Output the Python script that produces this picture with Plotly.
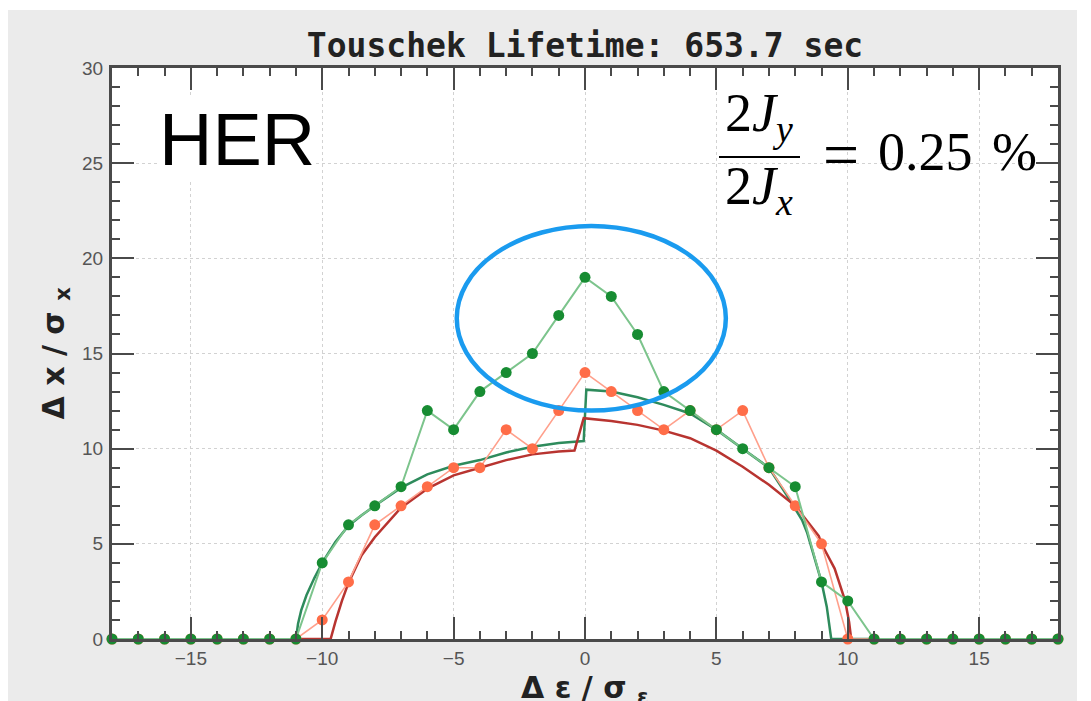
import plotly.graph_objects as go

# ---- data -------------------------------------------------------------
# energy deviation grid for the tracked points
de_grid = list(range(-18, 19))

# tracked aperture, 2Jy/2Jx = 0.25 %
dx_track_green = [0, 0, 0, 0, 0, 0, 0, 0,
                  4, 6, 7, 8, 12, 11, 13, 14, 15, 17,
                  19,
                  18, 16, 13, 12, 11, 10, 9, 8, 3, 2,
                  0, 0, 0, 0, 0, 0, 0, 0]

# tracked aperture, reference case
dx_track_orange = [0, 0, 0, 0, 0, 0, 0, 0,
                   1, 3, 6, 7, 8, 9, 9, 11, 10, 12,
                   14,
                   13, 12, 11, 12, 11, 12, 9, 7, 5, 0,
                   0, 0, 0, 0, 0, 0, 0, 0]

# model aperture curves
curve_green_x = [-11.0, -10.92, -10.8, -10.6, -10.3, -10.0, -9.5, -9.0, -8.5, -8.0,
                 -7.0, -6.0, -5.0, -4.0, -3.0, -2.0, -1.0, -0.05, 0.05,
                 1.0, 2.0, 3.0, 4.0, 5.0, 6.0, 7.0, 7.75, 8.0, 8.26, 8.45,
                 9.0, 9.2, 9.37, 11.0]
curve_green_y = [0.0, 0.8, 1.5, 2.3, 3.2, 4.0, 5.1, 5.95, 6.5, 7.0,
                 7.95, 8.65, 9.1, 9.4, 9.8, 10.1, 10.3, 10.4, 13.1,
                 13.0, 12.7, 12.3, 11.85, 11.0, 10.0, 9.0, 7.4, 6.85, 6.25, 5.6,
                 3.0, 1.7, 0.0, 0.0]

curve_red_x = [-11.0, -9.68, -9.5, -9.25, -9.0, -8.5, -8.0, -7.0, -6.0, -5.0,
               -4.0, -3.0, -2.0, -1.0, -0.4, -0.05,
               1.0, 2.0, 3.0, 4.0, 5.0, 6.0, 7.0, 8.0, 8.9, 9.0,
               9.5, 9.7, 9.9, 10.05, 10.13]
curve_red_y = [0.0, 0.0, 0.9, 2.0, 2.95, 4.4, 5.35, 6.9, 7.9, 8.6,
               9.0, 9.4, 9.7, 9.85, 9.9, 11.6,
               11.45, 11.25, 10.95, 10.55, 9.9, 9.05, 8.1, 7.0, 5.4, 5.0,
               3.7, 2.9, 2.0, 0.9, 0.0]

x_ticks = [-15, -10, -5, 0, 5, 10, 15]
x_tick_text = ["\u221215", "\u221210", "\u22125", "0", "5", "10", "15"]
y_ticks = [0, 5, 10, 15, 20, 25, 30]

title_text = "Touschek Lifetime: 653.7 sec"

# ---- geometry helpers (pixel -> paper) -------------------------------
W, H = 1091, 701
L, R, T, B = 112, 33, 68, 62
PW, PH = W - L - R, H - T - B


def px(x):
    return (x - L) / PW


def py(y):
    return (H - B - y) / PH


fig = go.Figure()

fig.add_trace(go.Scatter(x=curve_green_x, y=curve_green_y, mode="lines",
                         line=dict(color="#2E8B5C", width=2.5),
                         hoverinfo="skip", showlegend=False))
fig.add_trace(go.Scatter(x=curve_red_x, y=curve_red_y, mode="lines",
                         line=dict(color="#B83430", width=2.5),
                         hoverinfo="skip", showlegend=False))
fig.add_trace(go.Scatter(x=de_grid, y=dx_track_orange, mode="lines+markers",
                         line=dict(color="#FFA08C", width=1.6),
                         marker=dict(color="#FF6D48", size=11),
                         cliponaxis=False, showlegend=False))
fig.add_trace(go.Scatter(x=de_grid, y=dx_track_green, mode="lines+markers",
                         line=dict(color="#7CC48C", width=2),
                         marker=dict(color="#178C32", size=11),
                         cliponaxis=False, showlegend=False))

axis_common = dict(
    showline=True, linecolor="#4a4a4a", linewidth=3, mirror="ticks",
    ticks="inside", ticklen=22, tickwidth=2, tickcolor="#4a4a4a",
    showgrid=True, gridcolor="#d2d2d2", gridwidth=1, griddash="dot",
    zeroline=False,
    tickfont=dict(family="Liberation Sans", size=19, color="#555555"),
    minor=dict(ticks="inside", ticklen=8, tickwidth=2, tickcolor="#4a4a4a",
               dtick=1, showgrid=False),
)

fig.update_xaxes(range=[-18, 18], tickvals=x_ticks, ticktext=x_tick_text,
                 **axis_common)
fig.update_yaxes(range=[0, 30], tickvals=y_ticks, ticklabelstandoff=2,
                 **axis_common)

shapes = [
    # white page border around the grey frame
    dict(type="rect", xref="paper", yref="paper", x0=px(0), x1=px(W), y0=py(0), y1=py(10),
         fillcolor="white", line_width=0, layer="below"),
    dict(type="rect", xref="paper", yref="paper", x0=px(0), x1=px(8), y0=py(0), y1=py(H),
         fillcolor="white", line_width=0, layer="below"),
    dict(type="rect", xref="paper", yref="paper", x0=px(1077), x1=px(W), y0=py(0), y1=py(H),
         fillcolor="white", line_width=0, layer="below"),
    # backdrop of the ratio formula
    dict(type="rect", xref="paper", yref="paper", x0=px(713), x1=px(1030), y0=py(215), y1=py(97),
         fillcolor="white", line_width=0, layer="below"),
    # fraction bar
    dict(type="line", xref="paper", yref="paper", x0=px(719), x1=px(800), y0=py(157), y1=py(157),
         line=dict(color="black", width=2)),
    # highlight ellipse around the peak
    dict(type="circle", xref="x", yref="y", x0=-4.88, x1=5.36, y0=12.0, y1=21.7,
         line=dict(color="#1A9BEF", width=4.5)),
]

serif = "Liberation Serif"
formula_font = dict(family=serif, size=54, color="black")
annotations = [
    dict(text="HER", x=px(158), y=py(140), xref="paper", yref="paper",
         xanchor="left", yanchor="middle", showarrow=False,
         font=dict(family="Liberation Sans", size=74, color="black"),
         bgcolor="white", borderpad=0),
    dict(text="2<i>J</i><sub><i>y</i></sub>", x=px(759), y=py(117), xref="paper", yref="paper",
         xanchor="center", yanchor="middle", showarrow=False, font=formula_font),
    dict(text="2<i>J</i><sub><i>x</i></sub>", x=px(759), y=py(189), xref="paper", yref="paper",
         xanchor="center", yanchor="middle", showarrow=False, font=formula_font),
    dict(text="=", x=px(841), y=py(154), xref="paper", yref="paper",
         xanchor="center", yanchor="middle", showarrow=False,
         font=dict(family=serif, size=64, color="black")),
    dict(text="0.25", x=px(876), y=py(152), xref="paper", yref="paper",
         xanchor="left", yanchor="middle", showarrow=False, font=formula_font),
    dict(text="%", x=px(990), y=py(152), xref="paper", yref="paper",
         xanchor="left", yanchor="middle", showarrow=False, font=formula_font),
    dict(text="<b>\u0394 x / \u03c3 <sub>x</sub></b>", x=px(55), y=0.5, xref="paper", yref="paper",
         xanchor="center", yanchor="middle", textangle=-90, showarrow=False,
         font=dict(family="DejaVu Sans", size=30, color="#222222")),
    dict(text="<b>\u0394 \u03b5 / \u03c3 <sub>\u03b5</sub></b>", x=px(585), y=py(668),
         xref="paper", yref="paper",
         xanchor="center", yanchor="top", showarrow=False,
         font=dict(family="DejaVu Sans", size=30, color="#222222")),
]

fig.update_layout(
    width=W, height=H,
    margin=dict(l=L, r=R, t=T, b=B),
    paper_bgcolor="#ebebeb", plot_bgcolor="white",
    title=dict(text=title_text, x=px(585), xref="paper", xanchor="center",
               y=1 - 45 / H, yref="container", yanchor="middle",
               font=dict(family="DejaVu Sans Mono", size=33, color="#222222", weight="bold")),
    shapes=shapes, annotations=annotations,
    showlegend=False,
)

fig.write_html("out.html")
